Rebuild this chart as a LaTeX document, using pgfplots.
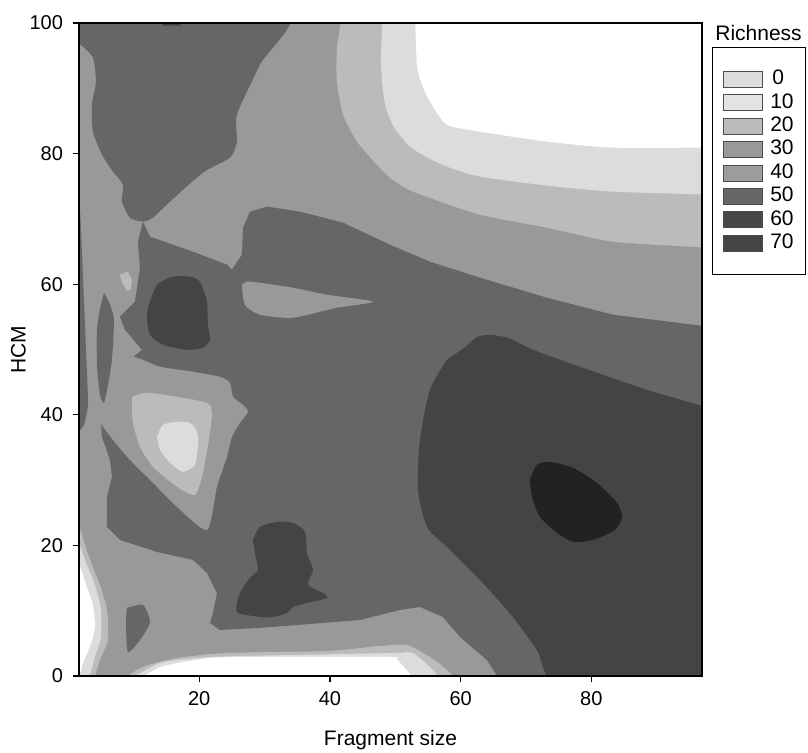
\documentclass[border=0pt]{standalone}
\usepackage{fontspec}
\setmainfont{Liberation Sans}
\usepackage{pgfplots}
\pgfplotsset{compat=1.18}
\definecolor{cW}{HTML}{FFFFFF}
\definecolor{cA}{HTML}{DCDCDC}
\definecolor{cB}{HTML}{BBBBBB}
\definecolor{cC}{HTML}{999999}
\definecolor{cD}{HTML}{666666}
\definecolor{cE}{HTML}{444444}
\definecolor{cF}{HTML}{222222}
\definecolor{g0}{HTML}{DDDDDD}
\definecolor{g10}{HTML}{E3E3E3}
\definecolor{g20}{HTML}{BBBBBB}
\definecolor{g30}{HTML}{999999}
\definecolor{g40}{HTML}{9C9C9C}
\definecolor{g50}{HTML}{666666}
\definecolor{g60}{HTML}{474747}
\definecolor{g70}{HTML}{444444}
\begin{document}
\begin{tikzpicture}
\begin{axis}[name=ax, scale only axis, width=311.5pt, height=326.5pt,
  xmin=1.6, xmax=96.93, ymin=0, ymax=100,
  xtick={20,40,60,80}, ytick={0,20,40,60,80,100},
  tick align=outside, xtick pos=left, ytick pos=left, major tick length=3pt,
  axis on top, axis line style={line width=0.6pt}, tick style={line width=0.6pt, black},
  /pgf/number format/assume math mode=true,
  ticklabel style={font=\fontsize{10}{12}\selectfont},
  yticklabel style={xshift=-1.5pt}, xticklabel style={yshift=-1pt},
  xlabel={Fragment size}, ylabel={HCM},
  label style={font=\fontsize{10.5}{12}\selectfont},
  xlabel style={yshift=-5.5pt}, ylabel style={yshift=-5pt},
  legend style={at={(1.016,0.963)}, anchor=north west, draw=black, line width=0.5pt,
    inner xsep=5.5pt, inner ysep=10.5pt, font=\fontsize{10.5}{12}\selectfont,
    nodes={inner sep=0.5pt, text height=7.5pt, text depth=2.2pt}, row sep=1pt},
  legend cell align=left,
  legend image code/.code={\draw[#1, draw=black!70, line width=0.4pt] (0pt,-4pt) rectangle (19.5pt,4pt);},
  sm/.style={smooth, tension=0.4},
]
% base level
\addplot[fill=cC, draw=none, forget plot] coordinates {(0,-2) (99,-2) (99,102) (0,102)};
% top-right bands
\addplot[fill=cB, draw=none, forget plot, sm] coordinates {(41.99,102) (41.07,96.25) (41.07,91.03) (41.99,85.98) (44.13,81.84) (47.18,78.31) (49.17,76.32) (52.69,74.18) (62.95,70.65) (73.2,68.66) (83.31,66.51) (98,65.59) (99,65.5) (99,102)};
\addplot[fill=cA, draw=none, forget plot, sm] coordinates {(48.1,102) (47.8,94.4) (48.1,89.8) (48.56,87.0) (49.9,83.9) (52.2,81.1) (55.3,79.2) (58.36,77.85) (62.95,76.48) (73.2,75.1) (83.31,74.18) (98,73.72) (99,73.7) (99,102)};
\addplot[fill=cW, draw=none, forget plot, sm] coordinates {(53.0,102) (53.31,93.64) (54.1,90.5) (55.3,87.97) (57.9,84.44) (62.95,83.37) (73.2,81.84) (83.31,80.92) (98,80.92) (99,80.9) (99,102)};
% top-left tongue
\addplot[fill=cD, draw=none, forget plot, sm] coordinates {(0,102) (33.3,102) (29.29,93.64) (25.77,85.98) (25.77,81.84) (24.7,79.39) (20.57,77.09) (15.52,72.64) (12.92,70.19) (11.38,69.58) (9.4,70.19) (8.17,72.64) (8.32,75.25) (6.79,77.24) (5.11,79.85) (3.73,83.37) (3.58,87.51) (4.19,91.03) (3.73,94.71) (1.74,96.7) (0,96.7)};
\addplot[fill=cE, draw=none, forget plot] coordinates {(13.53,101) (14.45,99.6) (17.05,99.6) (18.11,101)};
% middle level-50 region
\addplot[fill=cD, draw=none, forget plot] coordinates {(11.38,69.58) (12.46,67.28) (19.04,64.98) (24.24,62.99) (25.0,62.22) (26.53,64.52) (26.69,68.66) (27.76,71.11) (30.36,71.88) (35.41,71.11) (41.99,69.43) (49.17,66.05) (55.3,63.45) (62.95,61.0) (73.2,57.93) (83.31,55.33) (98,53.49) (98,-1) (66.2,-1) (64.02,2.45) (59.89,5.98) (57.29,9.04) (53.77,10.57) (50.7,10.11) (44.59,8.58) (29.29,7.36) (23.17,7.05) (21.64,8.12) (22.1,9.66) (22.71,12.72) (21.18,15.79) (19.04,17.78) (13.53,19.0) (7.87,20.84) (5.88,22.84) (5.88,27.43) (6.64,30.5) (6.34,33.1) (5.11,36.63) (4.96,38.77) (5.42,42.3) (6.03,45.67) (11.23,49.96) (8.63,53.03) (7.87,55.02) (10.16,57.32) (10.93,62.53) (10.62,66.51)};
% lens
\addplot[fill=cC, draw=none, forget plot, sm] coordinates {(26.53,59.92) (26.99,56.86) (29.29,55.33) (34.34,54.87) (41.07,56.4) (46.58,57.32) (39.54,58.39) (34.34,59.46) (29.29,60.23) (27.3,60.4) (26.53,59.92)};
% halo around the light triangle
\addplot[fill=cC, draw=none, forget plot, sm] coordinates {(4.5,39.23) (6.79,36.17) (9.4,33.1) (12.92,29.58) (16.59,25.9) (21.18,22.38) (22.71,28.97) (24.24,33.56) (25.0,36.63) (26.23,38.77) (27.45,40.46) (26.69,41.53) (25.16,42.76) (24.7,44.9) (23.17,45.82) (19.04,46.59) (13.99,47.36) (11.38,48.43) (7.87,49.5) (5.26,50.42) (4.04,48.43) (4.04,42.3) (4.5,39.23)};
\addplot[fill=cB, draw=none, forget plot, sm] coordinates {(9.7,41.23) (9.85,42.76) (12.0,43.37) (16.59,42.76) (21.18,41.84) (21.94,40.46) (21.64,37.24) (20.57,31.11) (19.34,27.74) (16.59,28.97) (12.92,32.03) (10.93,35.1) (9.85,38.77) (9.7,41.23)};
\addplot[fill=cA, draw=none, forget plot, sm] coordinates {(13.53,36.63) (14.45,38.47) (16.59,38.93) (18.58,38.77) (19.65,37.39) (19.8,35.1) (19.34,32.34) (17.5,31.26) (15.52,32.64) (13.99,34.64) (13.53,36.63)};
% dark blobs
\addplot[fill=cE, draw=none, forget plot, sm] coordinates {(12.15,56.4) (13.53,59.92) (15.98,61.15) (18.58,61.15) (20.1,60.38) (21.18,57.32) (21.33,53.79) (21.64,51.49) (20.57,50.27) (18.11,49.96) (14.45,50.73) (12.46,52.26) (12.0,54.87) (12.15,56.4)};
\addplot[fill=cE, draw=none, forget plot, sm] coordinates {(28.22,20.84) (29.29,22.84) (31.89,23.6) (34.34,23.45) (36.17,22.07) (36.48,18.85) (37.4,16.25) (36.63,13.95) (38.93,12.72) (39.54,11.95) (36.48,11.19) (34.34,10.57) (33.42,9.66) (31.28,9.04) (29.29,9.04) (25.77,9.81) (26.23,12.72) (27.76,15.02) (28.98,16.25) (28.52,18.85) (28.22,20.84)};
\addplot[fill=cE, draw=none, forget plot, sm] coordinates {(57.9,48.43) (60.6,50.3) (62.5,51.9) (64.48,52.26) (66.8,51.9) (68.0,51.49) (71.06,49.96) (78.26,47.36) (88.52,43.83) (98,41.07) (99,40.8) (99,-2) (75.6,-2) (71.67,3.98) (68.0,9.04) (62.95,14.71) (57.9,19.77) (54.84,22.84) (53.46,28.51) (53.77,36.17) (55.3,43.83) (57.9,48.43)};
\addplot[fill=cF, draw=none, forget plot, sm] coordinates {(70.6,30.04) (71.67,32.34) (73.67,32.8) (77.19,31.88) (80.86,29.58) (83.93,26.51) (84.69,24.37) (83.62,22.38) (80.25,20.84) (77.19,20.54) (74.74,21.92) (72.13,24.37) (70.91,27.43) (70.6,30.04)};
% left edge details
\addplot[fill=cD, draw=none, forget plot, sm] coordinates {(0,72.49) (1.6,72.0) (1.9,68.35) (2.36,57.62) (2.8,46.9) (2.97,41.53) (2.36,38.47) (1.6,37.6) (0,37.39)};
\addplot[fill=cD, draw=none, forget plot, sm] coordinates {(5.42,58.7) (6.34,56.86) (6.95,54.56) (6.64,48.43) (6.03,44.6) (5.42,41.84) (4.8,43.07) (4.35,47.66) (4.35,53.03) (4.8,56.09) (5.42,58.7)};
\addplot[fill=cB, draw=none, forget plot] coordinates {(7.87,61.46) (9.09,61.92) (9.7,60.69) (9.55,59.16) (8.94,59.0) (8.17,60.23)};
\addplot[fill=cD, draw=none, forget plot, sm] coordinates {(8.94,10.42) (11.38,10.88) (12.46,8.28) (10.93,5.52) (9.09,3.68) (8.78,8.12) (8.94,10.42)};
% bottom-left light bands
\addplot[fill=cB, draw=none, forget plot, sm] coordinates {(0,22.84) (1.6,22.84) (2.5,20.08) (3.58,17.01) (4.8,13.95) (5.88,10.11) (6.03,5.52) (4.8,2.45) (3.8,-1) (3.6,-2) (0,-2)};
\addplot[fill=cA, draw=none, forget plot, sm] coordinates {(0,20.08) (1.6,20.08) (2.8,17.01) (4.04,13.95) (4.96,10.11) (4.96,5.98) (4.04,2.91) (2.97,-1) (2.8,-2) (0,-2)};
\addplot[fill=cW, draw=none, forget plot, sm] coordinates {(0,17.01) (1.6,17.01) (2.8,13.64) (3.73,10.88) (4.04,7.51) (3.27,4.44) (2.2,1.99) (1.74,0.46) (0,0.46)};
\addplot[fill=cB, draw=none, forget plot, sm] coordinates {(7.3,-2) (7.6,-1) (11.38,1.38) (16.59,2.76) (24.24,3.52) (39.54,3.83) (47.64,4.6) (51.77,4.75) (55.3,2.91) (57.9,0.92) (59.6,-1) (60,-2)};
\addplot[fill=cA, draw=none, forget plot, sm] coordinates {(8.5,-2) (8.8,-1) (13.99,1.99) (21.64,2.91) (34.34,3.22) (49.63,3.52) (52.69,3.52) (55.76,0.92) (57.0,-1) (57.4,-2)};
\addplot[fill=cW, draw=none, forget plot, sm] coordinates {(10.0,-2) (10.47,-1) (13.99,1.38) (21.64,2.76) (29.29,2.91) (49.63,2.91) (50.24,2.61) (53.31,-1) (53.7,-2)};
% legend
\addlegendimage{fill=g0}\addlegendentry{\hspace{4pt}0}
\addlegendimage{fill=g10}\addlegendentry{\hspace{3pt}10}
\addlegendimage{fill=g20}\addlegendentry{\hspace{3pt}20}
\addlegendimage{fill=g30}\addlegendentry{\hspace{3pt}30}
\addlegendimage{fill=g40}\addlegendentry{\hspace{3pt}40}
\addlegendimage{fill=g50}\addlegendentry{\hspace{3pt}50}
\addlegendimage{fill=g60}\addlegendentry{\hspace{3pt}60}
\addlegendimage{fill=g70}\addlegendentry{\hspace{3pt}70}
\end{axis}
\node[anchor=base west, font=\fontsize{10.5}{12}\selectfont, inner sep=0pt] at ([xshift=6.5pt, yshift=-8.5pt]ax.north east) {Richness};
\pgfresetboundingbox
\path[use as bounding box] ([shift={(-39.5pt,-38pt)}]ax.south west) rectangle ([shift={(364.5pt,338pt)}]ax.south west);
\end{tikzpicture}
\end{document}
